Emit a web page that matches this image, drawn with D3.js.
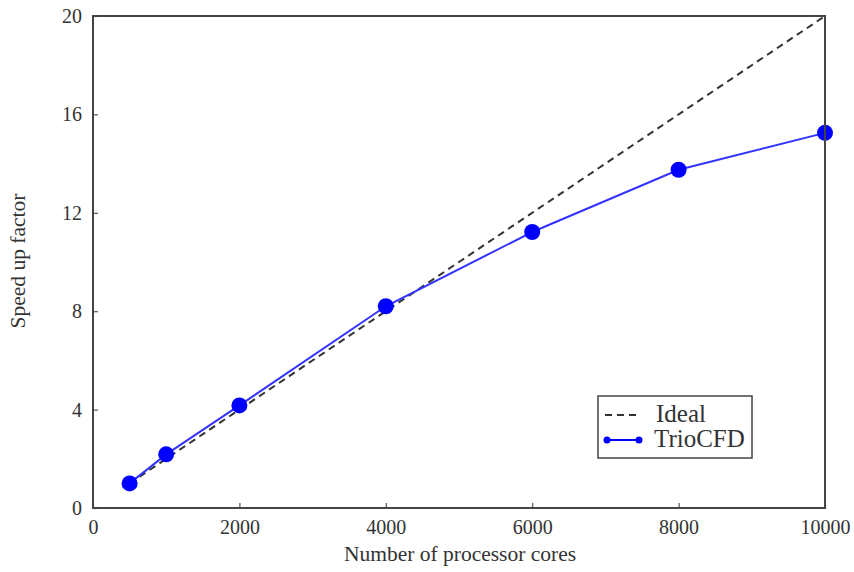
<!DOCTYPE html>
<html><head><meta charset="utf-8">
<script src="https://cdn.jsdelivr.net/npm/d3@7"></script>
<style>body{margin:0;background:#fff;} text{font-family:"Liberation Serif","Times New Roman",serif;fill:#333;}</style>
</head><body>
<svg id="c" width="854" height="572"></svg>
<script>
const cores = [500, 1000, 2000, 4000, 6000, 8000, 10000];
const trioCFD = [1.0, 2.18, 4.17, 8.2, 11.22, 13.75, 15.25];
const idealX = [500, 10000];
const idealY = [1, 20];
const xTicks = [0, 2000, 4000, 6000, 8000, 10000];
const yTicks = [0, 4, 8, 12, 16, 20];

const svg = d3.select("#c");
const L = 93, R = 825, T = 16, B = 508;
const x = d3.scaleLinear().domain([0, 10000]).range([L, R]);
const y = d3.scaleLinear().domain([0, 20]).range([B, T]);

// axes with inward ticks
const xa = svg.append("g").attr("transform", `translate(0,${B})`)
  .call(d3.axisBottom(x).tickValues(xTicks).tickSizeInner(-5).tickSizeOuter(0).tickPadding(12).tickFormat(d3.format("d")));
const ya = svg.append("g").attr("transform", `translate(${L},0)`)
  .call(d3.axisLeft(y).tickValues(yTicks).tickSizeInner(-5).tickSizeOuter(0).tickPadding(11));
[xa, ya].forEach(g => {
  g.select(".domain").remove();
  g.selectAll(".tick line").attr("stroke", "#555").attr("stroke-width", 1.2);
  g.selectAll(".tick text").attr("font-size", 20).attr("fill", "#333")
   .style("font-family", '"Liberation Serif",serif');
});

// lines
const ideal = idealX.map((v, i) => [v, idealY[i]]);
svg.append("path").datum(ideal)
  .attr("d", d3.line().x(d => x(d[0])).y(d => y(d[1])))
  .attr("fill", "none").attr("stroke", "#333").attr("stroke-width", 2).attr("stroke-dasharray", "7,5");

const trio = cores.map((v, i) => [v, trioCFD[i]]);
svg.append("path").datum(trio)
  .attr("d", d3.line().x(d => x(d[0])).y(d => y(d[1])))
  .attr("fill", "none").attr("stroke", "#3333ff").attr("stroke-width", 2);
svg.selectAll("circle.pt").data(trio).join("circle").attr("class", "pt")
  .attr("cx", d => x(d[0])).attr("cy", d => y(d[1])).attr("r", 8).attr("fill", "#0000ff");

// frame
svg.append("rect").attr("x", L).attr("y", T).attr("width", R - L).attr("height", B - T)
  .attr("fill", "none").attr("stroke", "#444").attr("stroke-width", 2);

// axis labels
svg.append("text").attr("x", 460).attr("y", 561).attr("text-anchor", "middle")
  .attr("font-size", 21.5).text("Number of processor cores");
svg.append("text").attr("transform", `translate(25,261) rotate(-90)`).attr("text-anchor", "middle")
  .attr("font-size", 21.5).text("Speed up factor");

// legend
const lg = svg.append("g");
lg.append("rect").attr("x", 598).attr("y", 396).attr("width", 154).attr("height", 62)
  .attr("fill", "#fff").attr("stroke", "#444").attr("stroke-width", 1.5);
lg.append("line").attr("x1", 605).attr("x2", 641).attr("y1", 415).attr("y2", 415)
  .attr("stroke", "#333").attr("stroke-width", 2).attr("stroke-dasharray", "7,5");
lg.append("text").attr("x", 656).attr("y", 422).attr("font-size", 25).text("Ideal");
lg.append("line").attr("x1", 607).attr("x2", 639).attr("y1", 440).attr("y2", 440)
  .attr("stroke", "#0000ff").attr("stroke-width", 2);
lg.selectAll("circle").data([607, 639]).join("circle").attr("cx", d => d).attr("cy", 440).attr("r", 3.5).attr("fill", "#0000ff");
lg.append("text").attr("x", 654).attr("y", 447).attr("font-size", 25).text("TrioCFD");
</script>
</body></html>
